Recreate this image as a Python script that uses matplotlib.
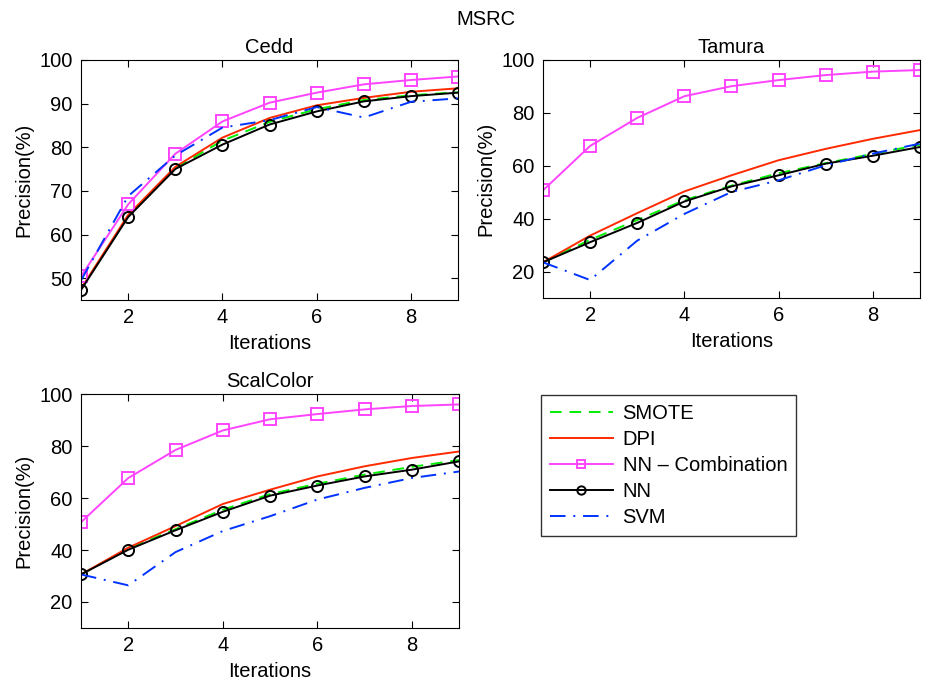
import matplotlib.pyplot as plt
import numpy as np

plt.rcParams['font.family'] = ['Liberation Sans', 'DejaVu Sans']
plt.rcParams['font.size'] = 14.5

iterations = np.arange(1, 10)

# Cedd
cedd_smote = [47.5, 64.2, 75.2, 81.5, 85.8, 88.7, 90.8, 91.9, 92.6]
cedd_dpi = [47.6, 64.5, 75.5, 82.2, 86.7, 89.6, 91.3, 92.7, 93.5]
cedd_nncomb = [50.4, 66.9, 78.5, 85.9, 90.2, 92.5, 94.4, 95.4, 96.2]
cedd_nn = [47.3, 64.0, 75.0, 80.6, 85.2, 88.2, 90.5, 91.7, 92.5]
cedd_svm = [49.5, 68.8, 78.1, 84.5, 86.2, 89.2, 86.8, 90.4, 91.2]

# Tamura
tam_smote = [23.5, 32.0, 39.5, 47.0, 52.5, 57.2, 61.0, 64.5, 68.0]
tam_dpi = [23.5, 33.6, 42.1, 50.3, 56.4, 62.1, 66.4, 70.2, 73.5]
tam_nncomb = [50.7, 67.5, 78.1, 86.3, 90.1, 92.4, 94.3, 95.6, 96.2]
tam_nn = [23.5, 31.1, 38.4, 46.5, 52.2, 56.4, 60.8, 63.8, 67.1]
tam_svm = [23.5, 16.8, 31.7, 41.8, 50.1, 54.5, 60.2, 64.6, 68.4]

# ScalColor
sc_smote = [30.6, 40.5, 48.0, 55.5, 61.5, 65.5, 69.0, 72.0, 74.6]
sc_dpi = [30.6, 40.9, 49.2, 57.7, 63.2, 68.3, 72.2, 75.4, 77.9]
sc_nncomb = [50.7, 67.7, 78.5, 86.0, 90.3, 92.3, 94.1, 95.4, 96.0]
sc_nn = [30.6, 40.1, 47.6, 54.7, 60.9, 64.8, 68.3, 70.9, 74.1]
sc_svm = [30.6, 26.4, 39.2, 47.3, 53.0, 59.4, 63.9, 67.7, 70.2]

labels = ['SMOTE', 'DPI', 'NN – Combination', 'NN', 'SVM']

fig = plt.figure(figsize=(9.25, 6.84), dpi=100)
fig.text(0.525, 0.972, 'MSRC', ha='center', va='center')

ax1 = fig.add_axes([0.0876, 0.5614, 0.4076, 0.351])
ax2 = fig.add_axes([0.587, 0.5643, 0.4076, 0.348])
ax3 = fig.add_axes([0.0876, 0.0819, 0.4087, 0.342])


def draw(ax, smote, dpi, nncomb, nn, svm, title, ylim, yticks):
    h = []
    h += ax.plot(iterations, smote, '--', color='#00ee00', lw=1.4, dashes=(6, 4))
    h += ax.plot(iterations, dpi, '-', color='#ff2a00', lw=1.4)
    h += ax.plot(iterations, nncomb, '-', color='#ff44ff', lw=1.4, marker='s',
                 markersize=8, markerfacecolor='none', markeredgewidth=1.4)
    h += ax.plot(iterations, nn, '-', color='black', lw=1.4, marker='o',
                 markersize=8, markerfacecolor='none', markeredgewidth=1.4)
    h += ax.plot(iterations, svm, '-.', color='#0033ff', lw=1.4, dashes=(8, 4, 1, 4))
    ax.set_xlim(1, 9)
    ax.set_ylim(*ylim)
    ax.set_xticks([2, 4, 6, 8])
    ax.set_yticks(yticks)
    ax.tick_params(direction='in', top=True, right=True, length=5, pad=6)
    ax.set_xlabel('Iterations', labelpad=5)
    ax.set_ylabel('Precision(%)', labelpad=4)
    ax.set_title(title, fontsize=14.5, pad=5)
    return h


handles = draw(ax1, cedd_smote, cedd_dpi, cedd_nncomb, cedd_nn, cedd_svm,
               'Cedd', (45, 100), [50, 60, 70, 80, 90, 100])
draw(ax2, tam_smote, tam_dpi, tam_nncomb, tam_nn, tam_svm,
     'Tamura', (10, 100), [20, 40, 60, 80, 100])
draw(ax3, sc_smote, sc_dpi, sc_nncomb, sc_nn, sc_svm,
     'ScalColor', (10, 100), [20, 40, 60, 80, 100])

leg = fig.legend(handles, labels, loc='upper left', bbox_to_anchor=(0.574, 0.4375),
                 frameon=True, fancybox=False, edgecolor='black', borderpad=0.45,
                 handlelength=3.1, handletextpad=0.5, labelspacing=0.35,
                 markerscale=0.75)
leg.get_frame().set_linewidth(1.0)

plt.savefig('out.png', dpi=100)
